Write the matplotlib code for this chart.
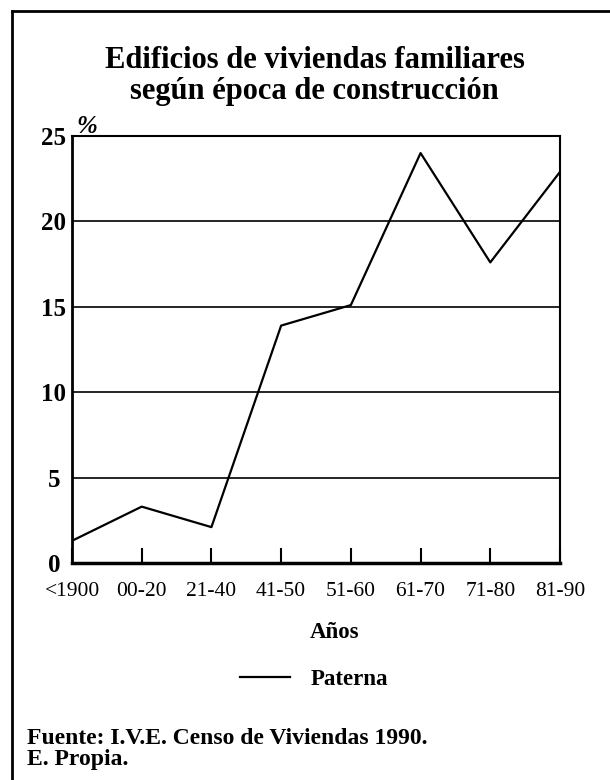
import matplotlib.pyplot as plt
from matplotlib.lines import Line2D

periods = ['<1900', '00-20', '21-40', '41-50', '51-60', '61-70', '71-80', '81-90']
paterna = [1.3, 3.3, 2.1, 13.9, 15.1, 24.0, 17.6, 22.9]
y_ticks = [0, 5, 10, 15, 20, 25]

plt.rcParams['font.family'] = ['Liberation Serif', 'DejaVu Serif']

fig = plt.figure(figsize=(6.1, 7.8), dpi=100, facecolor='white')
ax = fig.add_axes([72 / 610, 1 - 563 / 780, (560 - 72) / 610, (563 - 136) / 780])

x = list(range(len(periods)))
ax.plot(x, paterna, color='black', lw=1.6, label='Paterna')

ax.set_xlim(0, len(periods) - 1)
ax.set_ylim(0, 25)
ax.set_xticks(x)
ax.set_xticklabels(periods, fontsize=15.5)
ax.set_yticks(y_ticks)
ax.set_yticklabels([str(v) for v in y_ticks], fontsize=18, fontweight='bold', ha='center')
ax.tick_params(axis='x', direction='in', length=11, width=1.5, pad=14, colors='black')
ax.tick_params(axis='y', length=0, pad=13)
ax.yaxis.grid(True, color='black', lw=1.2)
ax.set_axisbelow(True)

for side, lw in [('left', 2.0), ('bottom', 2.5), ('top', 1.5), ('right', 1.5)]:
    ax.spines[side].set_linewidth(lw)
    ax.spines[side].set_color('black')

ax.set_xlabel('Años', fontsize=16.5, fontweight='bold', va='center')
ax.xaxis.set_label_coords((335 - 72) / 488, (563 - 633) / 427)

# "%" above the y axis
ax.text(0.009, 0.995, '%', transform=ax.transAxes, fontsize=18,
        fontweight='bold', style='italic', ha='left', va='bottom')

fig.text(0.516, 1 - 60 / 780, 'Edificios de viviendas familiares',
         fontsize=22, fontweight='bold', ha='center', va='center')
fig.text(0.516, 1 - 92 / 780, 'según época de construcción',
         fontsize=22, fontweight='bold', ha='center', va='center')

ax.legend(loc='center', bbox_to_anchor=(0.515, 1 - 679 / 780),
          bbox_transform=fig.transFigure, frameon=False,
          prop={'size': 16.5, 'weight': 'bold'}, handlelength=2.2, handletextpad=0.9)

fig.text(27 / 610, 1 - 738 / 780, 'Fuente: I.V.E. Censo de Viviendas 1990.',
         fontsize=17, fontweight='bold', ha='left', va='center')
fig.text(27 / 610, 1 - 759 / 780, 'E. Propia.',
         fontsize=17, fontweight='bold', ha='left', va='center')

# outer frame (top and left edges)
fig.add_artist(Line2D([12 / 610, 1], [1 - 11 / 780, 1 - 11 / 780], color='black', lw=2,
                      transform=fig.transFigure))
fig.add_artist(Line2D([12 / 610, 12 / 610], [1 - 11 / 780, 0], color='black', lw=2,
                      transform=fig.transFigure))

fig.savefig('out.png', dpi=100, facecolor='white')
